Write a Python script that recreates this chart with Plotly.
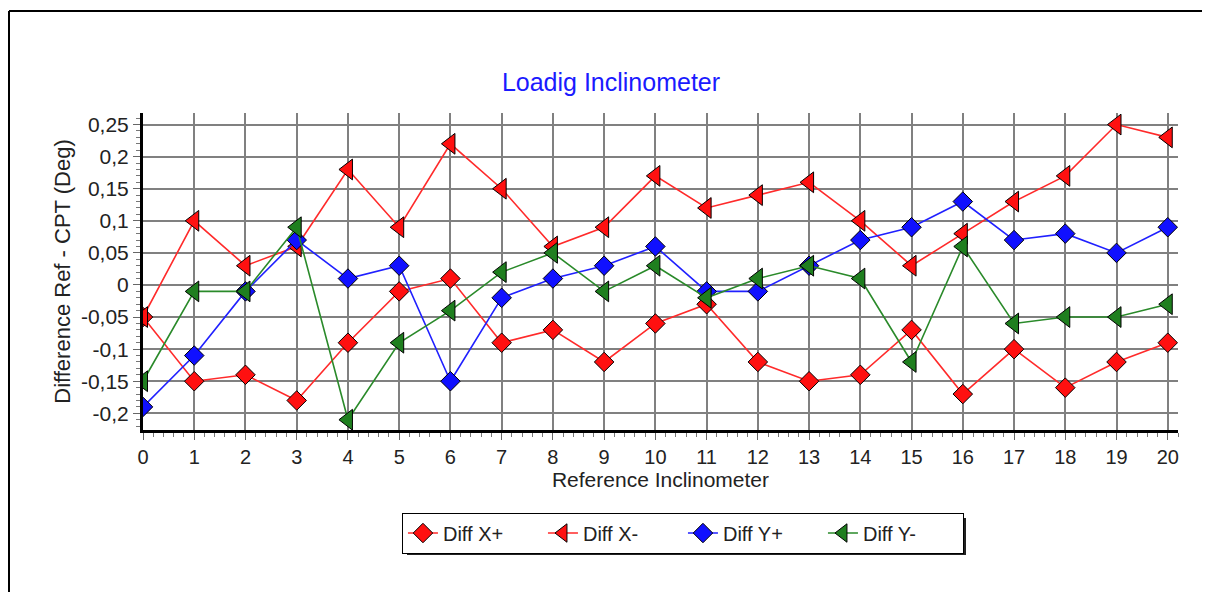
import plotly.graph_objects as go

# reference inclinometer positions
positions = list(range(21))

# differences Ref - CPT (deg)
diff_x_plus = [-0.05, -0.15, -0.14, -0.18, -0.09, -0.01, 0.01, -0.09, -0.07, -0.12, -0.06,
               -0.03, -0.12, -0.15, -0.14, -0.07, -0.17, -0.10, -0.16, -0.12, -0.09]
diff_x_minus = [-0.05, 0.10, 0.03, 0.06, 0.18, 0.09, 0.22, 0.15, 0.06, 0.09, 0.17,
                0.12, 0.14, 0.16, 0.10, 0.03, 0.08, 0.13, 0.17, 0.25, 0.23]
diff_y_plus = [-0.19, -0.11, -0.01, 0.07, 0.01, 0.03, -0.15, -0.02, 0.01, 0.03, 0.06,
               -0.01, -0.01, 0.03, 0.07, 0.09, 0.13, 0.07, 0.08, 0.05, 0.09]
diff_y_minus = [-0.15, -0.01, -0.01, 0.09, -0.21, -0.09, -0.04, 0.02, 0.05, -0.01, 0.03,
                -0.02, 0.01, 0.03, 0.01, -0.12, 0.06, -0.06, -0.05, -0.05, -0.03]

ytick_vals = [-0.2, -0.15, -0.1, -0.05, 0, 0.05, 0.1, 0.15, 0.2, 0.25]
ytick_text = ["-0,2", "-0,15", "-0,1", "-0,05", "0", "0,05", "0,1", "0,15", "0,2", "0,25"]

series = [
    ("Diff X+", diff_x_plus, "diamond", 15, "#ff1010", "#ff2a2a"),
    ("Diff X-", diff_x_minus, "triangle-left", 18, "#ff1010", "#ff2a2a"),
    ("Diff Y+", diff_y_plus, "diamond", 15, "#1010ff", "#2020ff"),
    ("Diff Y-", diff_y_minus, "triangle-left", 18, "#1f7f1f", "#2a8a2a"),
]

fig = go.Figure()
for name, vals, sym, size, fill, line in series:
    fig.add_trace(go.Scatter(
        x=positions, y=vals, name=name, mode="lines+markers",
        line=dict(color=line, width=1.6),
        marker=dict(symbol=sym, size=size, color=fill,
                    line=dict(color="black", width=1)),
    ))

# page body adds 8px around the figure, so size/positions are shifted by 8
W, H = 1202, 584
fig.update_layout(
    width=W, height=H,
    paper_bgcolor="white", plot_bgcolor="white",
    font=dict(family="Arial, Liberation Sans, sans-serif", color="#222", size=20),
    margin=dict(l=135, r=32, t=105, b=162),
    title=dict(text="Loadig Inclinometer", x=603 / W, xanchor="center",
               y=1 - 74 / H, yanchor="middle",
               font=dict(color="#1a1aff", size=25)),
    showlegend=True,
    legend=dict(orientation="h", x=0.5217, xanchor="center", y=-0.325, yanchor="middle",
                bgcolor="white", bordercolor="black", borderwidth=1,
                entrywidth=95, font=dict(size=20, color="#222")),
)

fig.update_xaxes(
    range=[0, 20.2], tickmode="linear", tick0=0, dtick=1,
    showgrid=True, gridcolor="#808080", gridwidth=1.6, zeroline=False,
    showline=True, linecolor="black", linewidth=3,
    ticks="outside", ticklen=7, tickcolor="#666",
    minor=dict(dtick=0.2, ticks="outside", ticklen=4, tickcolor="#777", showgrid=False),
    title=dict(text="Reference Inclinometer", standoff=6, font=dict(size=21)),
)
fig.update_yaxes(
    range=[-0.226, 0.268], tickmode="array", tickvals=ytick_vals, ticktext=ytick_text,
    tickfont=dict(size=21),
    showgrid=True, gridcolor="#808080", gridwidth=1.6, zeroline=False,
    showline=True, linecolor="black", linewidth=3,
    ticks="outside", ticklen=7, tickcolor="#666",
    minor=dict(dtick=0.01, tick0=0, ticks="outside", ticklen=4, tickcolor="#777", showgrid=False),
    title=dict(text="Difference Ref - CPT (Deg)", standoff=5, font=dict(size=22)),
)

# outer frame (top and left edges)
fx = (1 - 135) / 1035
fy = (422 - 3) / 317
fig.add_shape(type="line", xref="paper", yref="paper",
              x0=fx, x1=1.1, y0=fy, y1=fy, line=dict(color="black", width=2))
fig.add_shape(type="line", xref="paper", yref="paper",
              x0=fx, x1=fx, y0=-0.6, y1=fy, line=dict(color="black", width=2))

# drop shadow behind the legend box
fig.add_shape(type="rect", xref="paper", yref="paper",
              x0=(399 - 135) / 1035, x1=(958 - 135) / 1035,
              y0=(422 - 547) / 317, y1=(422 - 510) / 317,
              line=dict(width=0), fillcolor="#222")

fig.write_html("out.html")
